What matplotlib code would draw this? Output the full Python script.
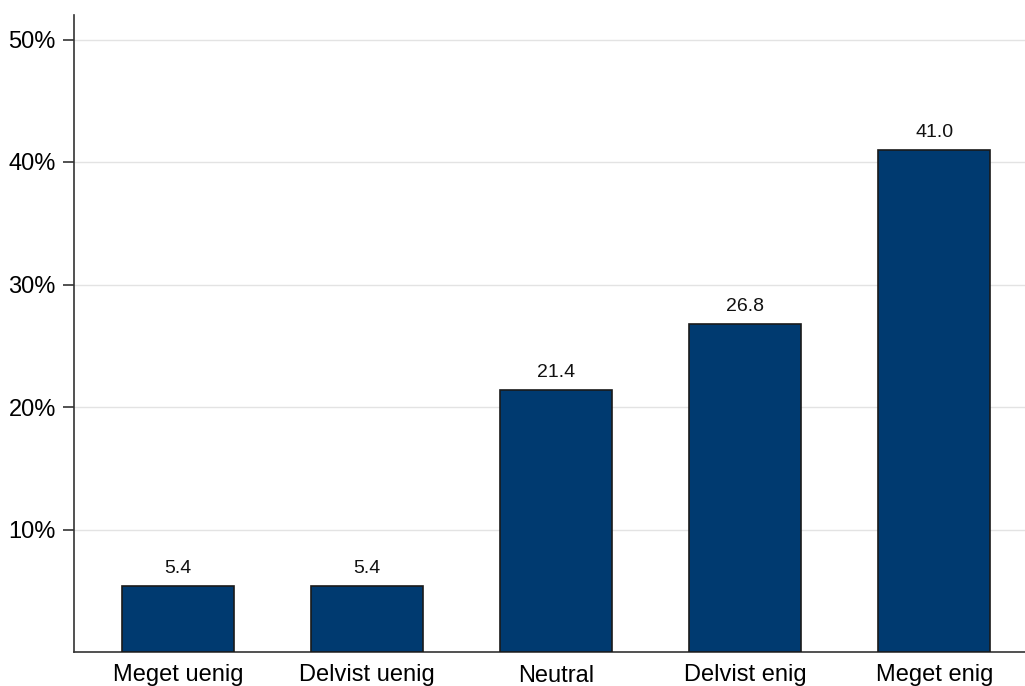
import numpy as np
import matplotlib
matplotlib.use('Agg')
import matplotlib.pyplot as plt

CATEGORIES = ['Meget uenig', 'Delvist uenig', 'Neutral', 'Delvist enig', 'Meget enig']
VALUES     = [5.4, 5.4, 21.4, 26.8, 41.0]
Y_TICKS    = [10, 20, 30, 40, 50]

plt.rcParams['font.family'] = ['Liberation Sans', 'DejaVu Sans']

fig = plt.figure(figsize=(10.25, 6.86), dpi=100)
ax = fig.add_axes([74 / 1025, 34 / 686, 1 - 74 / 1025, (652 - 15) / 686])

x = np.arange(len(CATEGORIES))
bars = ax.bar(x, VALUES, width=0.59, color='#003a70', edgecolor='#1a1a1a',
              linewidth=1.2, zorder=3)

# value labels above each bar
for xi, v in zip(x, VALUES):
    ax.text(xi, v + 0.75, f'{v:.1f}', ha='center', va='bottom', fontsize=14, color='#111111')

ax.set_xlim(-0.55, 4.48)
ax.set_ylim(0, 52)
ax.set_yticks(Y_TICKS)
ax.set_yticklabels([f'{t}%' for t in Y_TICKS], fontsize=17)
ax.set_xticks(x)
ax.set_xticklabels(CATEGORIES, fontsize=17)
ax.tick_params(axis='x', length=0, pad=9)
ax.tick_params(axis='y', length=8, width=1.2, color='#333333', pad=5)

ax.grid(axis='y', color='#e3e3e3', linewidth=1.0, zorder=0)
ax.spines['top'].set_visible(False)
ax.spines['right'].set_visible(False)
for s in ['left', 'bottom']:
    ax.spines[s].set_color('#333333')
    ax.spines[s].set_linewidth(1.2)

fig.savefig('out.png', dpi=100)
